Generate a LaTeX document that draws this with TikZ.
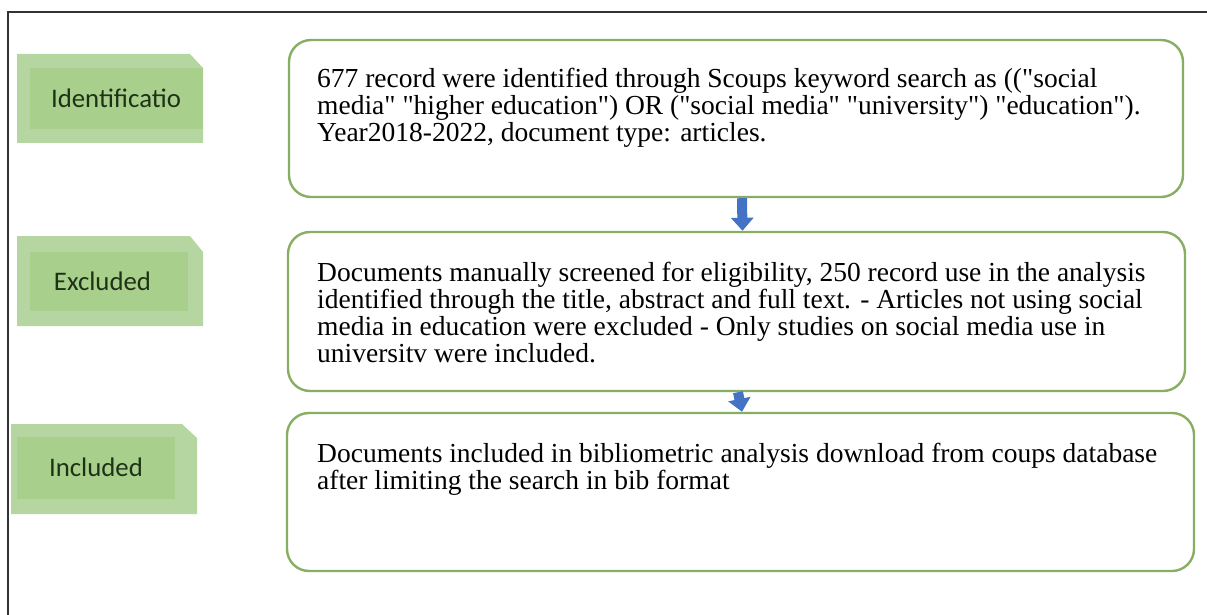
\documentclass[tikz,border=0pt]{standalone}
\usepackage{fontspec}
\setmainfont{Liberation Serif}[Ligatures=TeXOff]
\newfontfamily\tabfont{Carlito}
\usetikzlibrary{
    positioning, % posicionamento relativo
    arrows.meta  % setas
}
\definecolor{tabouter}{HTML}{B6D6A1}
\definecolor{tabinner}{HTML}{A8CF8C}
\definecolor{tabtext}{HTML}{1E3316}
\definecolor{boxline}{HTML}{88AE64}
\definecolor{arrowfill}{HTML}{4472C4}

\begin{document}
\begin{tikzpicture}[x=1pt, y=-1pt]

    % --- Estilos ---
    \tikzset{
        % caixas de texto principais
        stagebox/.style={
            draw=boxline,
            line width=2.4pt,
            rounded corners=22pt,
            inner sep=0pt
        },
        % texto das caixas
        stagetext/.style={
            anchor=north west,
            inner sep=0pt,
            align=left,
            font=\fontsize{27.5}{27}\selectfont
        },
        % rótulos verdes da esquerda
        tabshape/.style={
            fill=tabouter
        },
        tabcore/.style={
            fill=tabinner
        },
        tablabel/.style={
            inner sep=0pt,
            text=tabtext,
            font=\tabfont\fontsize{26.8}{30}\selectfont
        },
        % setas azuis
        flowarrow/.style={
            draw=arrowfill,
            line width=10pt,
            -{Triangle[width=22pt, length=13pt]}
        }
    }

    \useasboundingbox (0,0) rectangle (1207,615);

    % --- Moldura ---
    \draw[line width=2pt, black!80] (8,615) -- (8,12) -- (1207,12);

    % --- Caixas ---
    \node[stagebox, minimum width=894pt, minimum height=157pt] (ident) at (736,118.5) {};
    \node[stagebox, minimum width=897pt, minimum height=159pt] (screen) at (736.5,311.5) {};
    \node[stagebox, minimum width=907pt, minimum height=158pt] (incl) at (740.5,492) {};

    % --- Textos das caixas ---
    \node[stagetext] (identtext) at (317,68) {677 record were identified through Scoups keyword search as (("social\\
        media" "higher education") OR ("social media" "university") "education").\\
        Year2018-2022, document type: articles.};
    \node[stagetext] (screentext) at (317,262) {Documents manually screened for eligibility, 250 record use in the analysis\\
        identified through the title, abstract and full text. - Articles not using social\\
        media in education were excluded - Only studies on social media use in\\
        universitv were included.};
    \node[stagetext] (incltext) at (317,443) {Documents included in bibliometric analysis download from coups database\\
        after limiting the search in bib format};

    % --- Setas ---
    \draw[flowarrow] ([xshift=6pt]ident.south) -- ([xshift=6pt]screen.north);
    \draw[flowarrow] ([xshift=1.5pt]screen.south) -- ([xshift=1.5pt]incl.north);

    % --- Rótulos da esquerda ---
    \fill[tabshape] (17,54) -- (190,54) -- (203,68) -- (203,143) -- (17,143) -- cycle;
    \fill[tabcore] (30,68) rectangle (203,129);
    \node[tablabel] (identlabel) at (116,98.5) {Identificatio};

    \fill[tabshape] (17,236) -- (190,236) -- (203,252) -- (203,326) -- (17,326) -- cycle;
    \fill[tabcore] (30,252) rectangle (188,311);
    \node[tablabel] (screenlabel) at (102.5,281.5) {Excluded};

    \fill[tabshape] (11,424) -- (182,424) -- (197,438) -- (197,514) -- (11,514) -- cycle;
    \fill[tabcore] (17,437) rectangle (175,499);
    \node[tablabel] (incllabel) at (96,467) {Included};

\end{tikzpicture}
\end{document}
